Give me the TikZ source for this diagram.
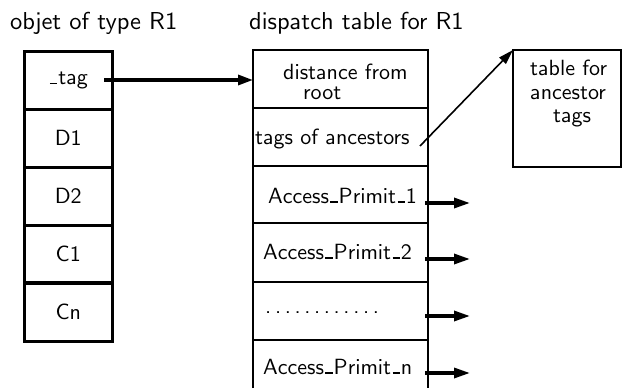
\documentclass[tikz,border=0pt]{standalone}
\usetikzlibrary{arrows.meta}
\font\ssbig=cmss10 at 22pt
\font\sstitle=cmss10 at 24.5pt
\newcommand\us{\kern0.06em\vbox{\hrule width 0.34em height 1.8pt}\kern0.04em}
\begin{document}
\begin{tikzpicture}[x=1pt,y=-1pt,
  every node/.style={font=\ssbig},
  cell/.style={draw,line width=2.5pt,minimum width=88pt,minimum height=58pt,inner sep=0pt,anchor=north west},
  rcell/.style={draw,line width=2.5pt,outer sep=0pt,minimum width=175pt,inner sep=0pt,anchor=north west},
  txt/.style={inner sep=0pt,anchor=base west},
  title/.style={inner sep=0pt,anchor=base west,font=\sstitle},
  bigarrow/.style={line width=3.2pt,-{Triangle[length=15pt,width=10pt]}},
  midarrow/.style={line width=3.2pt,-{Triangle[length=16pt,width=10pt]}},
  thinarrow/.style={line width=1.6pt,-{Triangle[length=15pt,width=9pt]}}]
\useasboundingbox (0,0) rectangle (622,391);
% titles
\node[title] (t1) at (10,29) {objet of type R1};
\node[title] (t2) at (249,29) {dispatch table for R1};
% left column
\node[cell] (tag) at (23,50) {\us tag};
\node[cell] (d1) at (23,108) {D1};
\node[cell] (d2) at (23,166) {D2};
\node[cell,minimum height=57pt] (c1) at (23,224) {C1};
\node[cell] (cn) at (23,282) {Cn};
% dispatch table
\node[rcell,minimum height=58pt] (r0) at (253,50) {};
\node[rcell,minimum height=58pt] (r1) at (253,108) {};
\node[rcell,minimum height=57pt] (r2) at (253,166) {};
\node[rcell,minimum height=59pt] (r3) at (253,223) {};
\node[rcell,minimum height=58pt] (r4) at (253,282) {};
\node[rcell,draw=none,minimum height=48pt] (r5) at (253,340) {};
\draw[line width=2.5pt] (r5.south west) -- (r5.north west) -- (r5.north east) -- (r5.south east);
\node[txt] (l0a) at (283,79) {distance from};
\node[txt] (l0b) at (303,99) {root};
\node[txt] (l1) at (255,144) {tags of ancestors};
\node[txt] (l2) at (268,203) {Access\us Primit\us 1};
\node[txt] (l3) at (263,259) {Access\us Primit\us 2};
\node[txt] (l4) at (263,313) {\hbox to 118pt{\cleaders\hbox to 9.8pt{\hss.\hss}\hfill}};
\node[txt] (l5) at (263,374) {Access\us Primit\us n};
% ancestor table
\node[draw,line width=2.5pt,outer sep=0pt,minimum width=108pt,minimum height=117pt,inner sep=0pt,anchor=north west] (anc) at (513,50) {};
\node[txt] (a1) at (530,75) {table for};
\node[txt] (a2) at (530,99) {ancestor};
\node[txt] (a3) at (553,122) {tags};
% arrows
\coordinate (tagstart) at (104,80);
\draw[bigarrow] (tagstart) -- (r0.west |- tagstart);
\coordinate (ancstart) at (420,146);
\draw[thinarrow] (ancstart) -- (anc.north west);
\foreach \n/\y in {2/203,3/259,4/316,5/373}{
  \coordinate (s\n) at (425,\y);
  \coordinate (e\n) at (470,\y);
  \draw[midarrow] (s\n) -- (e\n);
}
\end{tikzpicture}
\end{document}
